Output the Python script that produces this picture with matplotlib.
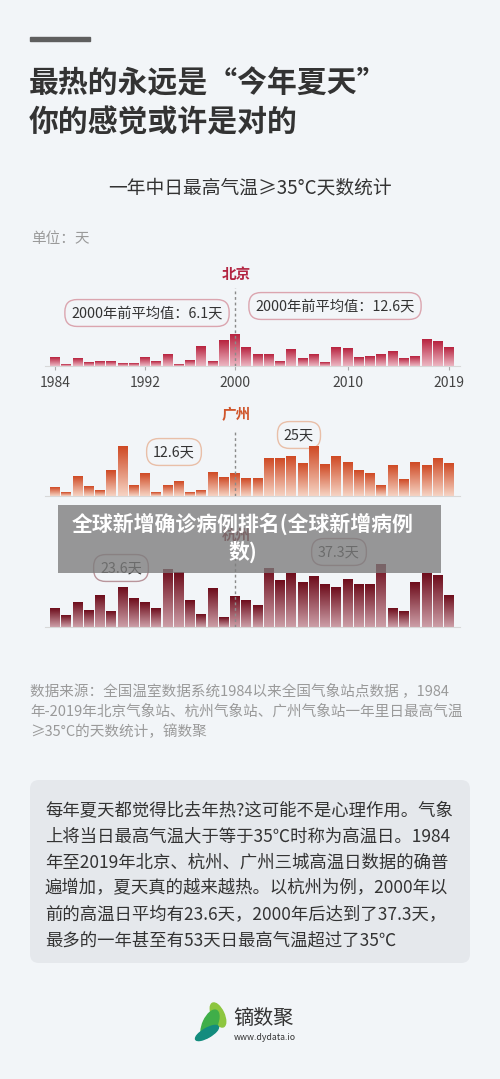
import numpy as np
import matplotlib
matplotlib.use("Agg")
import matplotlib.pyplot as plt
from matplotlib.colors import LinearSegmentedColormap
from matplotlib.patches import Rectangle, FancyBboxPatch, Ellipse

## DATA (days per year with daily max >= 35C)
years = list(range(1984, 2020))
beijing = [7, 1, 6, 3, 4, 4, 2, 2, 7, 4, 10, 1, 5, 17, 4, 22,
           27, 16, 10, 10, 4, 14, 6, 10, 3, 16, 15, 7, 8, 10, 12, 6, 8, 23, 21, 16]
guangzhou = [7, 3, 17, 8, 5, 22, 42, 9, 19, 3, 9, 12, 3, 5, 20, 16,
             19, 15, 15, 32, 32, 34, 28, 42, 27, 34, 29, 22, 19, 9, 26, 14, 29, 26, 32, 28]
hangzhou = [16, 10, 21, 14, 27, 13, 34, 24, 21, 16, 49, 47, 23, 11, 33, 8,
            26, 23, 18, 50, 40, 46, 38, 43, 36, 34, 41, 36, 36, 53, 16, 13, 38, 46, 44, 27]
tick_years = [1984, 1992, 2000, 2010, 2019]

title_lines = ["最热的永远是“今年夏天”", "你的感觉或许是对的"]
subtitle = "一年中日最高气温≥35°C天数统计"
unit = "单位：天"
source_lines = ["数据来源：全国温室数据系统1984以来全国气象站点数据 ，1984",
                "年-2019年北京气象站、杭州气象站、广州气象站一年里日最高气温",
                "≥35°C的天数统计，镝数聚"]
body_lines = ["每年夏天都觉得比去年热?这可能不是心理作用。气象",
              "上将当日最高气温大于等于35℃时称为高温日。1984",
              "年至2019年北京、杭州、广州三城高温日数据的确普",
              "遍增加，夏天真的越来越热。以杭州为例，2000年以",
              "前的高温日平均有23.6天，2000年后达到了37.3天，",
              "最多的一年甚至有53天日最高气温超过了35℃"]
overlay_text = "全球新增确诊病例排名(全球新增病例\n数)"

BG = "#f2f5f8"
W, H = 500, 1079
PX_PER_DAY = 1.17

plt.rcParams["font.family"] = ["Noto Sans CJK SC", "DejaVu Sans"]

fig = plt.figure(figsize=(W / 100, H / 100), dpi=100, facecolor=BG)
bg = fig.add_axes([0, 0, 1, 1])
bg.set_xlim(0, W)
bg.set_ylim(H, 0)
bg.axis("off")


def px_axes(left, top, right, bottom, **kw):
    return fig.add_axes([left / W, 1 - bottom / H, (right - left) / W, (bottom - top) / H], **kw)


def draw_city(top, base, values, c_top, c_bot, show_ticks):
    ax = px_axes(45, top, 460, base)
    ax.patch.set_alpha(0)
    cmap = LinearSegmentedColormap.from_list("g", [c_bot, c_top])
    grad = np.linspace(0, 1, 64).reshape(-1, 1)
    for y, v in zip(years, values):
        ax.imshow(grad, cmap=cmap, extent=[y - 0.44, y + 0.44, 0, v], origin="lower",
                  aspect="auto", interpolation="bilinear")
    ax.set_xlim(1983.11, 2019.98)
    ax.set_ylim(0, (base - top) / PX_PER_DAY)
    ax.axvline(2000, color="#8a8a8a", lw=1, ls=(0, (2, 2)), zorder=3)
    for s in ["top", "left", "right"]:
        ax.spines[s].set_visible(False)
    ax.spines["bottom"].set_color("#d8d8d8")
    ax.set_yticks([])
    if show_ticks:
        ax.set_xticks(tick_years)
        ax.set_xticklabels([str(t) for t in tick_years])
        ax.tick_params(axis="x", length=3, color="#aaaaaa", labelsize=10, labelcolor="#444444", pad=4.5)
    else:
        ax.set_xticks([])
    return ax


def callout(x, y, txt, edge):
    bg.text(x, y, txt, ha="center", va="center", fontsize=10.3, color="#333333",
            bbox=dict(boxstyle="round,pad=0.45,rounding_size=0.85", fc=BG, ec=edge, lw=1))


# header
bg.add_patch(Rectangle((30, 37), 60, 4, color="#5f5f5f"))
bg.text(29, 83, title_lines[0], fontsize=21.5, fontweight="bold", color="#333333", va="center")
bg.text(29, 122, title_lines[1], fontsize=21.5, fontweight="bold", color="#333333", va="center")
bg.text(250, 188, subtitle, fontsize=13.5, color="#333333", ha="center", va="center")
bg.text(31, 239, unit, fontsize=10.5, color="#9a9a9a", va="center")

# Beijing
draw_city(288, 366, beijing, "#b8233f", "#ecb6c2", True)
bg.text(236, 274, "北京", fontsize=10.5, fontweight="bold", color="#b32542", ha="center", va="center")
callout(147, 313, "2000年前平均值：6.1天", "#dba5af")
callout(335, 306, "2000年前平均值：12.6天", "#dba5af")

# Guangzhou
draw_city(431, 496, guangzhou, "#cf4a25", "#f6d3c3", False)
bg.text(236, 414, "广州", fontsize=10.5, fontweight="bold", color="#d0562c", ha="center", va="center")
callout(174, 452, "12.6天", "#e9bfa8")
callout(299, 435, "25天", "#e9bfa8")

# Hangzhou
draw_city(545, 627, hangzhou, "#6e0d1c", "#cc9ea7", False)
bg.text(236, 535, "杭州", fontsize=10.5, fontweight="bold", color="#7a1a25", ha="center", va="center")
callout(121, 568, "23.6天", "#b9959b")
callout(339, 552, "37.3天", "#b9959b")

# source
for i, line in enumerate(source_lines):
    bg.text(30, 691 + i * 20.5, line, fontsize=10.5, color="#9a9a9a", va="center")

# body box
bg.add_patch(FancyBboxPatch((30, 780), 440, 183, boxstyle="round,pad=0,rounding_size=9",
                            fc="#e5e8ec", ec="none"))
for i, line in enumerate(body_lines):
    bg.text(45, 810 + i * 26.2, line, fontsize=12.5, color="#333333", va="center")

# logo
bg.add_patch(Ellipse((218, 1015), 12, 26, angle=-25, color="#8dc63f"))
bg.add_patch(Ellipse((210, 1024), 14, 30, angle=25, color="#3fae49"))
bg.add_patch(Ellipse((207, 1033), 9, 26, angle=60, color="#138c7e"))
bg.text(233, 1019, "镝数聚", fontsize=14.5, color="#333333", va="center")
bg.text(234, 1038, "www.dydata.io", fontsize=6.3, color="#333333", va="center")

# watermark overlay
fg = fig.add_axes([0, 0, 1, 1], zorder=5)
fg.patch.set_alpha(0)
fg.set_xlim(0, W)
fg.set_ylim(H, 0)
fg.axis("off")
fg.add_patch(Rectangle((58, 505), 383, 68, fc="#7c7c7c", alpha=0.78, ec="none"))
fg.text(243, 538, overlay_text, fontsize=15, fontweight="bold", color="white",
        ha="center", va="center", linespacing=1.35)

fig.savefig("out.png", dpi=100, facecolor=BG)
